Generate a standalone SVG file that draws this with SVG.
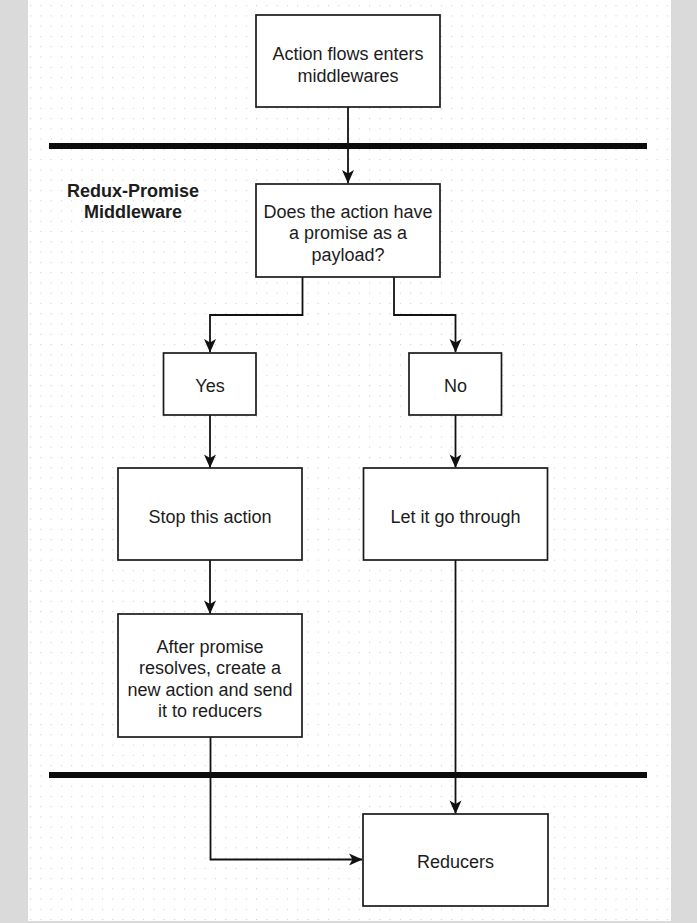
<svg xmlns="http://www.w3.org/2000/svg" width="697" height="923" viewBox="0 0 697 923">
  <defs>
    <pattern id="dots" patternUnits="userSpaceOnUse" x="30.1" y="5.1" width="10.27" height="10.27">
      <rect x="0" y="0" width="1.1" height="1.1" fill="#cfcfcf"/>
    </pattern>
    <marker id="arrow" markerUnits="userSpaceOnUse" markerWidth="16" markerHeight="16" viewBox="0 0 16 16" refX="14" refY="8" orient="auto">
      <path d="M1,2 L14.5,8 L1,14 L4.5,8 Z" fill="#111"/>
    </marker>
    <style>
      .box { fill: #ffffff; stroke: #1a1a1a; stroke-width: 1.7; }
      .lbl { font-family: "Liberation Sans", Arial, sans-serif; font-size: 18px; fill: #1c1c1c; text-anchor: middle; }
      .bold { font-weight: bold; }
      .conn { fill: none; stroke: #111; stroke-width: 1.8; }
      .bar { stroke: #0c0c0c; stroke-width: 6; }
    </style>
  </defs>

  <!-- page frame and dotted canvas -->
  <rect x="0" y="0" width="697" height="923" fill="#dadada"/>
  <rect x="28" y="0" width="643" height="921" fill="#ffffff"/>
  <rect x="28" y="0" width="643" height="921" fill="url(#dots)"/>

  <!-- section bars -->
  <g id="bars">
    <line class="bar" x1="49" y1="146" x2="647" y2="146"/>
    <line class="bar" x1="49" y1="775" x2="647" y2="775"/>
  </g>

  <g id="section-label">
    <text class="lbl bold" x="133" y="197">Redux-Promise</text>
    <text class="lbl bold" x="133" y="218">Middleware</text>
  </g>

  <!-- connectors -->
  <g id="connectors">
    <path class="conn" d="M348,107 V183" marker-end="url(#arrow)"/>
    <path class="conn" d="M302.5,277 V315 H210 V352" marker-end="url(#arrow)"/>
    <path class="conn" d="M394,277 V315 H455.5 V352" marker-end="url(#arrow)"/>
    <path class="conn" d="M210,415 V467.5" marker-end="url(#arrow)"/>
    <path class="conn" d="M455.5,415 V467.5" marker-end="url(#arrow)"/>
    <path class="conn" d="M210,560 V613.5" marker-end="url(#arrow)"/>
    <path class="conn" d="M455.5,560 V813.5" marker-end="url(#arrow)"/>
    <path class="conn" d="M210.5,737 V859.5 H362" marker-end="url(#arrow)"/>
  </g>

  <!-- nodes -->
  <g id="node-enter">
    <rect class="box" x="256" y="15" width="184" height="92"/>
    <text class="lbl" x="348" y="60">Action flows enters</text>
    <text class="lbl" x="348" y="81.5">middlewares</text>
  </g>

  <g id="node-question">
    <rect class="box" x="256" y="184" width="184" height="93"/>
    <text class="lbl" x="348" y="217.5">Does the action have</text>
    <text class="lbl" x="348" y="239">a promise as a</text>
    <text class="lbl" x="348" y="260.5">payload?</text>
  </g>

  <g id="node-yes">
    <rect class="box" x="163.5" y="353" width="92.5" height="62"/>
    <text class="lbl" x="210" y="392">Yes</text>
  </g>

  <g id="node-no">
    <rect class="box" x="409" y="353" width="92.5" height="62"/>
    <text class="lbl" x="455.5" y="392">No</text>
  </g>

  <g id="node-stop">
    <rect class="box" x="118" y="468" width="184" height="92"/>
    <text class="lbl" x="210" y="523">Stop this action</text>
  </g>

  <g id="node-pass">
    <rect class="box" x="363.5" y="468" width="184" height="92"/>
    <text class="lbl" x="455.5" y="523">Let it go through</text>
  </g>

  <g id="node-resolve">
    <rect class="box" x="118" y="614" width="184" height="123"/>
    <text class="lbl" x="210" y="652.5">After promise</text>
    <text class="lbl" x="210" y="674">resolves, create a</text>
    <text class="lbl" x="210" y="695.5">new action and send</text>
    <text class="lbl" x="210" y="717">it to reducers</text>
  </g>

  <g id="node-reducers">
    <rect class="box" x="363" y="814" width="185" height="92"/>
    <text class="lbl" x="455.5" y="868">Reducers</text>
  </g>
</svg>
